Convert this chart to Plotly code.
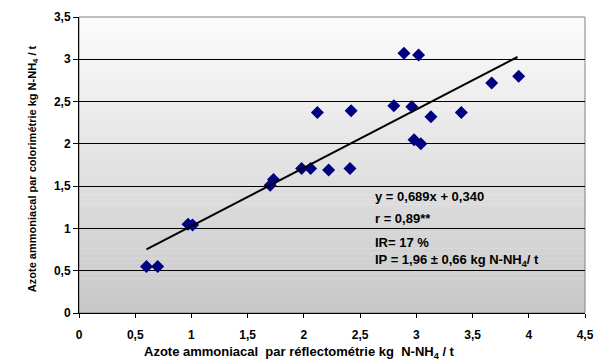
import plotly.graph_objects as go

# Data
x_reflecto = [0.60, 0.70, 0.97, 1.01, 1.70, 1.73, 1.98, 2.06, 2.12, 2.22, 2.41, 2.42,
              2.80, 2.89, 2.96, 2.98, 3.02, 3.04, 3.13, 3.40, 3.67, 3.91]
y_colori = [0.55, 0.55, 1.05, 1.04, 1.51, 1.58, 1.71, 1.71, 2.37, 1.69, 1.71, 2.39,
            2.45, 3.07, 2.44, 2.05, 3.05, 2.00, 2.32, 2.37, 2.72, 2.80]
slope, intercept = 0.689, 0.340
trend_x = [0.60, 3.90]
trend_y = [slope * v + intercept for v in trend_x]

x_ticks = [0, 0.5, 1, 1.5, 2, 2.5, 3, 3.5, 4, 4.5]
x_labels = ["0", "0,5", "1", "1,5", "2", "2,5", "3", "3,5", "4", "4,5"]
y_ticks = [0, 0.5, 1, 1.5, 2, 2.5, 3, 3.5]
y_labels = ["0", "0,5", "1", "1,5", "2", "2,5", "3", "3,5"]

FONT = "Liberation Sans, Arial, sans-serif"

fig = go.Figure()
fig.add_trace(go.Scatter(x=x_reflecto, y=y_colori, mode="markers",
                         marker=dict(symbol="diamond", size=10, color="#000080"),
                         showlegend=False, hoverinfo="x+y"))
fig.add_trace(go.Scatter(x=trend_x, y=trend_y, mode="lines",
                         line=dict(color="black", width=2), showlegend=False))

# gradient background (white at top -> gray at bottom)
shapes = []
n = 60
top = (252, 252, 252)
bot = (200, 200, 200)
for i in range(n):
    f = (i + 0.5) / n
    c = tuple(int(round(top[k] + (bot[k] - top[k]) * f)) for k in range(3))
    shapes.append(dict(type="rect", xref="paper", yref="paper",
                       x0=0, x1=1, y0=1 - (i + 1) / n, y1=1 - i / n + 0.001,
                       fillcolor="rgb(%d,%d,%d)" % c, line=dict(width=0), layer="below"))
shapes.append(dict(type="rect", xref="paper", yref="paper", x0=0, x1=1, y0=0, y1=1,
                   line=dict(color="#808080", width=1), fillcolor="rgba(0,0,0,0)", layer="below"))

ann_font = dict(size=13, family=FONT, color="black")
ax = 2.615
annots = [
    dict(x=ax, y=1.375, text="<b>y = 0,689x + 0,340</b>", xanchor="left", showarrow=False, font=ann_font),
    dict(x=ax, y=1.12, text="<b>r = 0,89**</b>", xanchor="left", showarrow=False, font=ann_font),
    dict(x=ax, y=0.83, text="<b>IR= 17 %</b>", xanchor="left", showarrow=False, font=ann_font),
    dict(x=ax, y=0.625, text="<b>IP = 1,96 ± 0,66 kg N-NH<sub>4</sub>/ t</b>", xanchor="left",
         showarrow=False, font=ann_font),
    dict(xref="paper", yref="paper", x=(299 - 79) / 506, y=-39 / 296,
         text="<b>Azote ammoniacal  par réflectométrie kg  N-NH<sub>4</sub> / t</b>",
         showarrow=False, xanchor="center", yanchor="middle",
         font=dict(size=13, family=FONT, color="black")),
    dict(xref="paper", yref="paper", x=-46 / 506, y=0.486,
         text="<b>Azote ammoniacal par colorimétrie kg N-NH<sub>4</sub> / t</b>",
         showarrow=False, textangle=-90, xanchor="center", yanchor="middle",
         font=dict(size=11, family=FONT, color="black")),
]

tickfont = dict(size=12, family="Liberation Sans", color="black", weight="bold")

fig.update_layout(
    width=595, height=360,
    margin=dict(l=79, r=10, t=17, b=47, autoexpand=False),
    paper_bgcolor="white", plot_bgcolor="rgba(0,0,0,0)",
    font=dict(family=FONT, color="black"),
    shapes=shapes, annotations=annots,
    xaxis=dict(range=[0, 4.5], tickvals=x_ticks, ticktext=["<b>%s</b>" % t for t in x_labels],
               showgrid=False, zeroline=False, automargin=False,
               showline=True, linecolor="black", linewidth=1,
               ticks="outside", ticklen=4, tickcolor="black", tickfont=tickfont,
               ticklabelstandoff=7),
    yaxis=dict(range=[0, 3.5], tickvals=y_ticks, ticktext=["<b>%s</b>" % t for t in y_labels],
               showgrid=True, gridcolor="black", gridwidth=1,
               zeroline=False, automargin=False, showline=True, linecolor="black", linewidth=1,
               ticks="outside", ticklen=5, tickcolor="black", tickfont=tickfont),
)

fig.write_html("out.html", config={"displayModeBar": False},
               post_script="document.body.style.margin='0';document.body.style.overflow='hidden';")
